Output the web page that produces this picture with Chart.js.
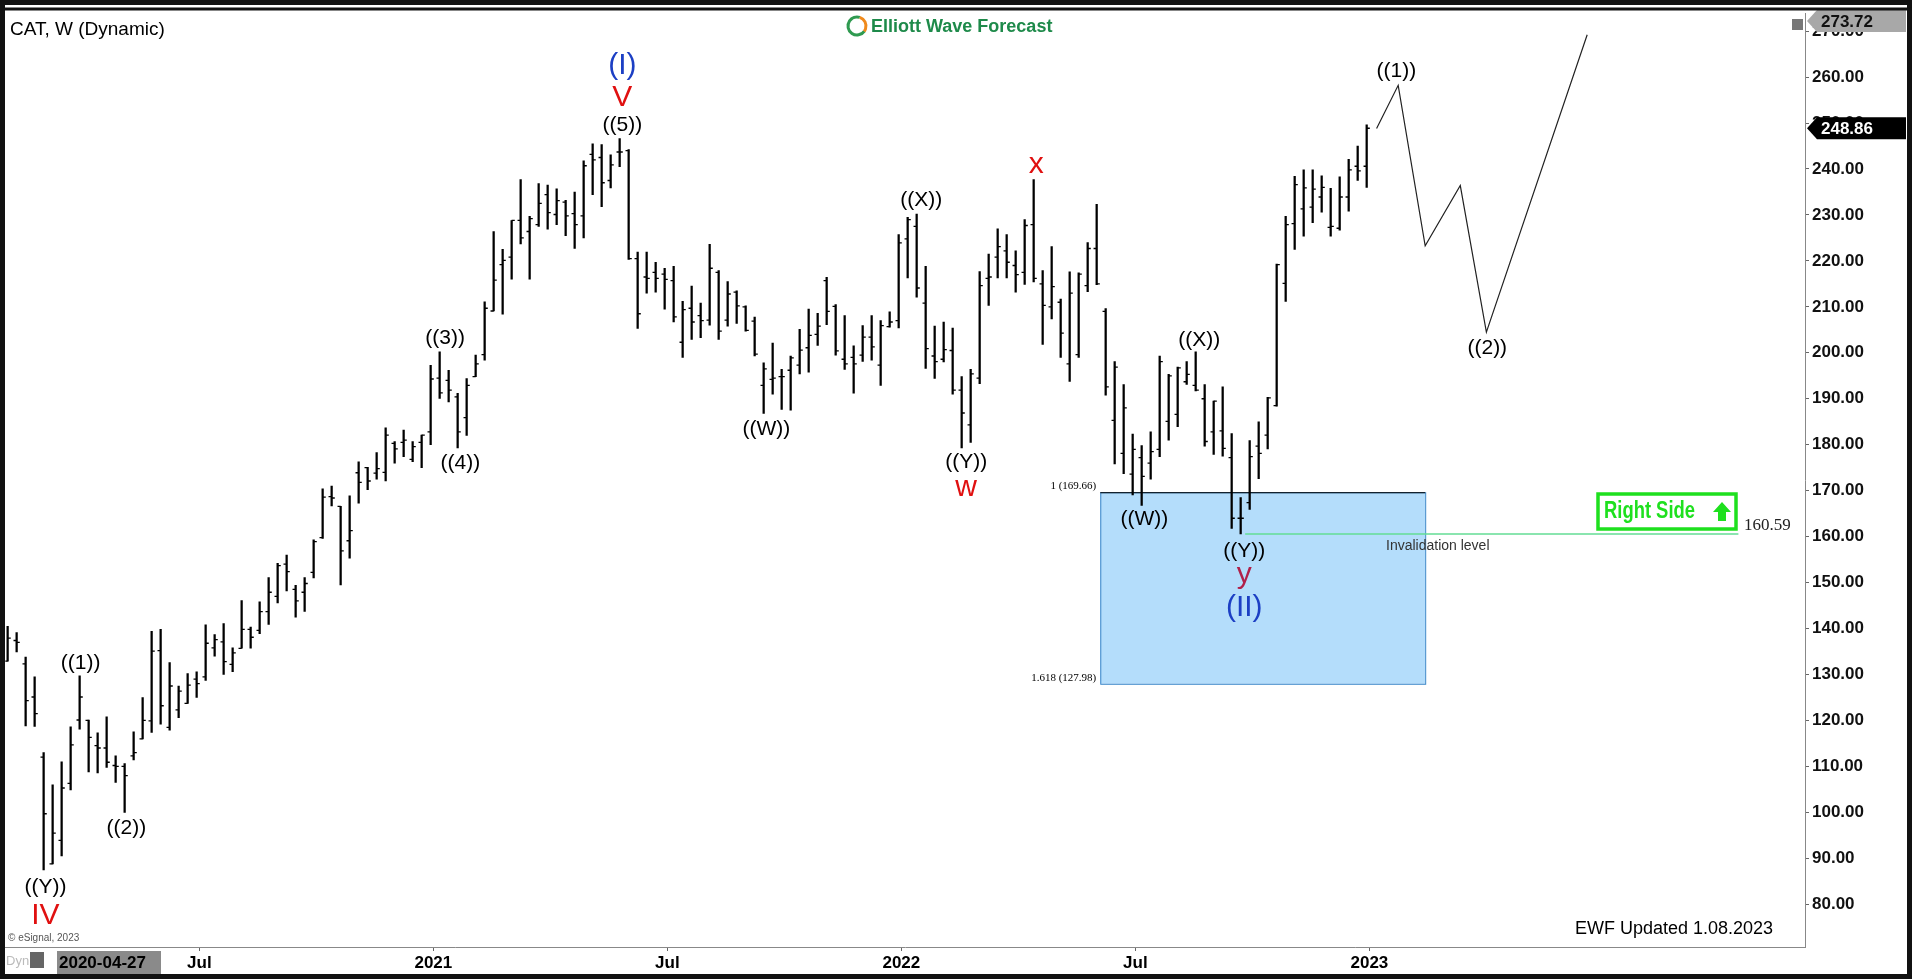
<!DOCTYPE html>
<html>
<head>
<meta charset="utf-8">
<script src="https://cdn.jsdelivr.net/npm/chart.js@4.4.1/dist/chart.umd.min.js"></script>
<style>
  html, body { margin: 0; padding: 0; background: #fff; }
  #wrap { width: 1912px; height: 979px; }
</style>
</head>
<body>
<div id="wrap"><canvas id="chart" width="1912" height="979"></canvas></div>
<script>
// CAT weekly bars (index 0 = first bar on the left)
const opens  = [132.9,137.4,132.3,125.1,112,88.8,93.9,106.3,120.1,120,114.5,114,110.2,110,112.3,116,119.9,135.2,118.5,122.3,
  123.7,129,129.5,135.8,137.1,132.2,135.7,139.8,139.6,143.7,147,154,148.5,147.9,152.2,159.8,168.7,166.6,159.1,173.9,
  175,173.8,174,180.3,180.5,176.8,180.5,182.8,194.5,194,190.4,185.9,194.8,199.6,209.1,219.2,220.8,228.8,226.4,227.9,
  234.4,230.1,232.8,230.3,229.8,243.2,242.5,237.5,243.7,244,220.5,216.5,217.5,217.1,215.7,202.3,209.7,208.1,207.1,217.5,
  207.1,213.2,210,206.9,192.9,194.2,194.8,196.2,197.3,201.1,204,215.7,210.1,198.6,199,199.5,203.4,197.3,205.7,207,
  224.8,227.5,210.8,199.3,198.6,200.5,191.9,184.3,194.5,216.2,220.8,222.2,219,217.5,227.9,215,210,211,197.6,199.6,
  214.6,222.7,209,185.3,178.1,173.6,177.2,176,179,185.1,186.6,193.7,192.9,190,182.8,183,177.2,164,167.4,179.7,
  182.1,188.5,215.1,228.1,231.3,231.7,233.9,227.3,227.1,233.9,240.6,240.6];
const highs  = [140.5,139.1,133.8,129.5,113,106,111,118.6,129.7,120.1,117.3,120.8,112.3,110.6,117.5,125,139.4,139.8,132.6,127.5,
  130.2,130.6,140.8,138.7,141.1,135.8,146.1,140.3,145.8,151.1,154.2,156,149.4,151.1,159.3,170.4,171,166.6,168.9,176.3,
  175.1,178.3,183.7,180.7,183.2,180.7,182.1,197.3,200.2,196.2,191.2,194.4,199.5,211.1,226.4,222.5,228.8,237.7,229.7,236.8,
  236.5,235.7,233.2,235,241.8,245.5,245.3,243.1,246.6,244.2,221.9,221.9,219.7,218.4,218.8,211.2,214.5,210.8,223.6,217.9,
  215.5,213.5,210.2,207.8,197.8,202.1,196.4,199.3,205.1,209.5,208.6,216.4,210.5,208.1,201.5,205.9,208.1,207,208.9,225.7,
  229.5,230.2,218.8,205.8,206.7,205.4,194.8,196.4,217.7,221.5,227,225.7,222.2,229,237.7,217.9,223.1,211.7,217.6,217.4,
  224,232.3,209.6,198.1,193.1,182.3,179.8,182.8,199.3,195.3,196.9,198.1,200.2,193.1,189.5,192.6,182.4,168.5,180.9,185,
  190.3,219.3,229.7,238.4,239.8,239.8,238.5,235.8,238.3,242.1,245,249.6];
const lows   = [132.9,134.9,118.8,118.7,87.5,88.8,90.5,104.9,118.1,108.8,108.6,109.8,106.5,100,111.4,116,117.4,119.2,117.9,120.6,
  123.7,125,128.7,134,130,130.6,135.7,135.7,138.9,140.9,145.6,148.2,142.5,143.7,151,159.6,166.7,149.5,155.3,167.3,
  170.2,172.5,172.1,176,177.4,176.3,175,180,190.1,189.3,179.3,182,194.8,198.4,209.1,208.4,216,223.7,216,227.5,
  226.9,227.9,225.5,222.7,225,234.4,231.8,235.9,240.5,220.3,205.3,213,213.2,209.5,206.7,199,202.9,203.3,206,202.9,
  205.8,206.4,204.7,199.3,186.8,191,187.7,187.5,195.4,195.8,201.6,206.1,199.5,196.4,191.2,198.1,198.4,192.9,205.6,205.4,
  216.3,212.1,196.6,194.4,198,191,179.3,180.5,193.3,210.3,216.3,216.3,213.2,214.9,215.4,201.8,207.4,199,193.8,199,
  213.3,214.8,190.8,175.8,173.7,169.1,166.8,172.5,177.4,181,183.9,193.1,191.7,179.7,177.9,177.5,161.8,160.6,165.9,172.6,
  179.1,188.4,211.2,222.5,225.4,228.3,230.6,225.4,226.7,230.8,237.5,236];
const closes = [137.9,137,124.3,121.5,99.7,95.5,105.3,114.7,125.1,116.3,114,110.9,110,108,113,120,135.1,123.2,127.5,126.4,
  127.7,128,136.8,137.6,132.8,134.7,139.8,138.1,143.7,147.9,153.7,152.4,146,149.8,158.9,168.6,168.4,156.9,161.3,171.8,
  172.1,174.8,182.1,179.1,181,179.6,182.1,194.3,191.3,191.9,182.8,192.9,197.6,209.7,215.8,220.1,228.8,225,229.2,232.5,
  230.5,233.1,229.8,227.9,240.7,242,237,240.9,243.7,220.5,208.5,216.2,216.2,216,207.8,209.4,206.7,207,218.4,204.7,
  212.8,210.2,204.9,199.7,196.5,194.5,194.8,198.9,200.6,203.8,205.8,209,200.4,197.6,197.6,203.4,201.3,205.9,206.7,223.9,
  229,214.1,200.9,198.1,200.7,191.9,186.9,195.4,214.6,216.5,223.1,219.7,217,227.7,216.2,210.3,214.4,204.3,213,217.1,
  222.7,215,192.6,196.9,188,179,173.1,178.5,198.1,195,196.7,195.3,191.9,180.7,189.5,179.2,164,164,177.4,178.1,
  190.2,219.2,227.9,236.6,235.9,235.6,236,227.5,233.9,239.8,239.6,248.86];

// projected path (bar index, price)
const projX = [152.1,154.5,157.5,161.4,164.3,175.5];
const projY = [248.8,258.2,223.3,236.4,204.5,269.2];

// axis ticks
const yTicks = [80,90,100,110,120,130,140,150,160,170,180,190,200,210,220,230,240,250,260,270];
const xTickPos = [21.3,47.3,73.3,99.3,125.3,151.3];
const xTickLabels = ['Jul','2021','Jul','2022','Jul','2023'];

// levels
const boxFrom = 121.4, boxTo = 157.5;
const fibTop = 169.66, fibBottom = 127.98;
const invalidation = 160.59;
const invFrom = 137.5, invTo = 192.3;
const lastPrice = 248.86, topPrice = 273.72;

// wave labels: [index, price, text, colour, size]
const waveLabels = [
  [68.3,262.4,'(I)','#1c3fc4',30],[68.3,255.5,'V','#e01010',30],[68.3,249.6,'((5))','#000',21],
  [48.6,203.2,'((3))','#000',21],[50.3,175.9,'((4))','#000',21],
  [8.1,132.5,'((1))','#000',21],[13.2,96.5,'((2))','#000',21],
  [4.2,83.7,'((Y))','#000',21],[4.2,77.6,'IV','#e01010',30],
  [84.3,183.3,'((W))','#000',21],[101.5,233.1,'((X))','#000',21],
  [114.3,241.0,'x','#e01010',30],[106.5,176.1,'((Y))','#000',21],[106.5,170.7,'w','#e01010',30],
  [126.3,163.7,'((W))','#000',21],[132.4,202.8,'((X))','#000',21],
  [137.4,156.8,'((Y))','#000',21],[137.4,151.8,'y','#b0204a',30],[137.4,144.6,'(II)','#1c3fc4',30],
  [154.3,261.3,'((1))','#000',21],[164.4,201,'((2))','#000',21]
];

const idx = opens.map((_, i) => i);

const decor = {
  id: 'decor',
  beforeDraw(chart) {
    const c = chart.ctx;
    c.save();
    c.fillStyle = '#fff';
    c.fillRect(0, 0, chart.width, chart.height);
    c.restore();
  },
  beforeDatasetsDraw(chart) {
    const c = chart.ctx, x = chart.scales.x, y = chart.scales.y;
    const l = x.getPixelForValue(boxFrom), r = x.getPixelForValue(boxTo);
    const t = y.getPixelForValue(fibTop), b = y.getPixelForValue(fibBottom);
    c.save();
    c.fillStyle = '#b4ddfb';
    c.fillRect(l, t, r - l, b - t);
    c.strokeStyle = '#3a86c8';
    c.lineWidth = 1;
    c.strokeRect(l + 0.5, t + 0.5, r - l, b - t);
    c.strokeStyle = '#000';
    c.beginPath(); c.moveTo(l, t + 0.5); c.lineTo(r, t + 0.5); c.stroke();
    c.fillStyle = '#000';
    c.font = '11px "Liberation Serif"';
    c.textAlign = 'right'; c.textBaseline = 'middle';
    c.fillText('1 (169.66)', l - 4, t - 6);
    c.fillText('1.618 (127.98)', l - 4, b - 6);
    c.restore();
  },
  afterDraw(chart) {
    const c = chart.ctx, x = chart.scales.x, y = chart.scales.y, a = chart.chartArea;
    c.save();
    c.textAlign = 'center'; c.textBaseline = 'middle';
    waveLabels.forEach(([i, v, s, col, sz]) => {
      c.fillStyle = col;
      c.font = sz + 'px "Liberation Sans"';
      c.fillText(s, x.getPixelForValue(i), y.getPixelForValue(v));
    });

    // title + logo
    c.textAlign = 'left';
    c.fillStyle = '#000';
    c.font = '19px "Liberation Sans"';
    c.fillText('CAT, W (Dynamic)', 10, 30);
    c.beginPath(); c.lineWidth = 3; c.strokeStyle = '#2f9a50';
    c.arc(857, 26, 9, 0.6, Math.PI * 1.6); c.stroke();
    c.beginPath(); c.strokeStyle = '#f08a1c';
    c.arc(857, 26, 9, Math.PI * 1.6, Math.PI * 2.2); c.stroke();
    c.fillStyle = '#1e8a4a';
    c.font = 'bold 18px "Liberation Sans"';
    c.fillText('Elliott Wave Forecast', 871, 27);

    // invalidation texts
    const yi = y.getPixelForValue(invalidation);
    c.fillStyle = '#333';
    c.font = '14px "Liberation Sans"';
    c.fillText('Invalidation level', 1386, yi + 12);
    c.fillStyle = '#222';
    c.font = '17px "Liberation Serif"';
    c.fillText('160.59', 1744, yi - 8);

    // Right Side box
    c.strokeStyle = '#1ee01e'; c.lineWidth = 3.5;
    c.strokeRect(1598, 494, 138, 35);
    c.fillStyle = '#1ee01e';
    c.save();
    c.translate(1604, 512);
    c.scale(0.8, 1);
    c.font = 'bold 23px "Liberation Sans"';
    c.fillText('Right Side', 0, 0);
    c.restore();
    c.beginPath();
    c.moveTo(1722, 502); c.lineTo(1731, 512); c.lineTo(1726, 512); c.lineTo(1726, 521);
    c.lineTo(1718, 521); c.lineTo(1718, 512); c.lineTo(1713, 512); c.closePath(); c.fill();

    // footer texts
    c.fillStyle = '#000';
    c.font = '18px "Liberation Sans"';
    c.fillText('EWF Updated 1.08.2023', 1575, 929);
    c.fillStyle = '#555';
    c.font = '10px "Liberation Sans"';
    c.fillText('\u00a9 eSignal, 2023', 8, 938);
    c.fillStyle = '#bbb';
    c.font = '13px "Liberation Sans"';
    c.fillText('Dyn', 6, 961);
    c.fillStyle = '#666';
    c.fillRect(30, 952, 14, 16);
    c.fillStyle = '#8a8a8a';
    c.fillRect(57, 951, 104, 23);
    c.fillStyle = '#000';
    c.font = 'bold 17px "Liberation Sans"';
    c.fillText('2020-04-27', 59, 963);
    c.fillStyle = '#777';
    c.fillRect(1792, 19, 11, 11);

    // price tags
    const tag = (v, bg, fg, yy) => {
      const py = yy !== undefined ? yy : y.getPixelForValue(v);
      c.fillStyle = bg;
      c.beginPath();
      c.moveTo(a.right + 2, py); c.lineTo(a.right + 12, py - 11); c.lineTo(1906, py - 11);
      c.lineTo(1906, py + 11); c.lineTo(a.right + 12, py + 11); c.closePath(); c.fill();
      c.fillStyle = fg;
      c.font = 'bold 17px "Liberation Sans"';
      c.fillText(v.toFixed(2), a.right + 16, py + 1);
    };
    tag(topPrice, '#a8a8a8', '#111', 21);
    tag(lastPrice, '#000', '#fff');

    // frame
    c.strokeStyle = '#111'; c.lineWidth = 5;
    c.strokeRect(2.5, 2.5, chart.width - 5, chart.height - 5);
    c.lineWidth = 3;
    c.beginPath(); c.moveTo(0, 9); c.lineTo(chart.width, 9); c.stroke();
    c.restore();
  }
};

new Chart(document.getElementById('chart'), {
  type: 'bar',
  data: {
    datasets: [
      {
        type: 'line', data: [{x: invFrom, y: invalidation}, {x: invTo, y: invalidation}],
        borderColor: '#63dc95', borderWidth: 1.5, pointRadius: 0, order: 5
      },
      {
        type: 'bar', data: idx.map(i => ({x: i, y: [lows[i], highs[i]]})),
        backgroundColor: '#000', borderWidth: 0, barThickness: 1.6, order: 1
      },
      {
        type: 'scatter', data: idx.map(i => ({x: i - 0.17, y: opens[i]})),
        pointStyle: 'line', radius: 1.6, borderColor: '#000', borderWidth: 1.3, order: 0
      },
      {
        type: 'scatter', data: idx.map(i => ({x: i + 0.17, y: closes[i]})),
        pointStyle: 'line', radius: 1.6, borderColor: '#000', borderWidth: 1.3, order: 0
      },
      {
        type: 'line', data: projX.map((v, k) => ({x: v, y: projY[k]})),
        borderColor: '#222', borderWidth: 1.2, pointRadius: 0, tension: 0, order: 0
      }
    ]
  },
  options: {
    responsive: false,
    devicePixelRatio: 1,
    animation: false,
    events: [],
    layout: { padding: { left: 5, top: 10, right: 5, bottom: 4 } },
    plugins: { legend: { display: false }, tooltip: { enabled: false } },
    scales: {
      x: {
        type: 'linear', min: -0.26, max: 199.7, offset: false,
        afterBuildTicks: s => { s.ticks = xTickPos.map(v => ({value: v})); },
        afterFit: s => { s.height = 28; },
        ticks: {
          autoSkip: false, maxRotation: 0, color: '#000', padding: 2,
          font: { family: 'Liberation Sans', size: 17, weight: 'bold' },
          callback: v => xTickLabels[xTickPos.indexOf(v)]
        },
        grid: { drawOnChartArea: false, offset: false, tickLength: 4, color: '#666' },
        border: { color: '#888' }
      },
      y: {
        position: 'right', min: 70.7, max: 273.9,
        afterBuildTicks: s => { s.ticks = yTicks.map(v => ({value: v})); },
        afterFit: s => { s.width = 102; },
        ticks: {
          color: '#111', padding: 3,
          font: { family: 'Liberation Sans', size: 17, weight: 'bold' },
          callback: v => v.toFixed(2)
        },
        grid: { drawOnChartArea: false, tickLength: 4, color: '#666' },
        border: { color: '#888' }
      }
    }
  },
  plugins: [decor]
});
</script>
</body>
</html>
